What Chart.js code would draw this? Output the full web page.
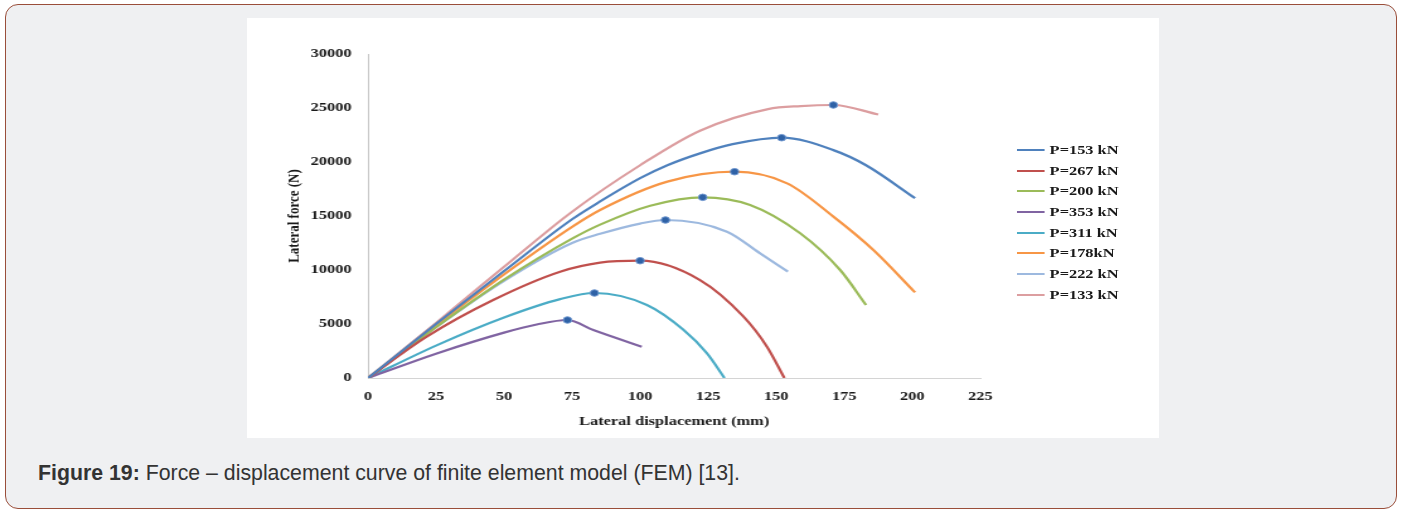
<!DOCTYPE html>
<html>
<head>
<meta charset="utf-8">
<script src="https://cdn.jsdelivr.net/npm/chart.js"></script>
<style>
  html, body { margin:0; padding:0; background:#fff; }
  body { width:1402px; height:511px; position:relative; overflow:hidden; }
  #frame { position:absolute; left:5px; top:4px; width:1390px; height:503px;
           border:1.5px solid #9a4e3a; border-radius:13px; background:#eff0f2; }
  #plot { position:absolute; left:247px; top:18px; width:912px; height:420px; background:#fff; overflow:hidden; }
  /* the source picture is stretched sideways, so draw narrow and widen */
  #stretch { position:absolute; left:0; top:0; width:724px; height:420px;
             transform:scaleX(1.26); transform-origin:0 0; }
  #chartCanvas { position:absolute; left:0; top:0; }
  #legend { position:absolute; left:611px; top:121.6px; font:bold 13px "Liberation Serif", "Times New Roman", serif; color:#1a1a1a; }
  #legend .row { height:20.7px; display:flex; align-items:center; white-space:nowrap; }
  #legend .swatch { width:22px; height:2.2px; margin-right:4px; }
  #caption { position:absolute; left:38px; top:461px; font:21.3px "Liberation Sans", Arial, sans-serif; color:#333; white-space:nowrap; }
</style>
</head>
<body>
<div id="frame"></div>
<div id="plot">
  <div id="stretch">
    <canvas id="chartCanvas" width="724" height="420"></canvas>
    <div id="legend"></div>
  </div>
</div>
<div id="caption"><b>Figure 19:</b> Force – displacement curve of finite element model (FEM) [13].</div>
<script>
// values: displacement (mm) and lateral force (N)
const disp153 = [0, 25, 50, 75, 85, 100, 110, 122, 134, 152, 171, 183, 201];
const force153 = [0, 5000, 9900, 14700, 16300, 18500, 19700, 20800, 21650, 22250, 21100, 19700, 16650];

const disp267 = [0, 21.6, 46, 70.6, 85.3, 100, 122, 138, 146.6, 153];
const force267 = [0, 3830, 7220, 9840, 10680, 10860, 9070, 5680, 2900, 0];

const disp200 = [0, 25, 50, 75, 85.3, 103.7, 123, 140.4, 158.8, 173.5, 183];
const force200 = [0, 4700, 9100, 12900, 14200, 15950, 16730, 16020, 13400, 10000, 6760];

const disp353 = [0, 25, 50, 62, 73.3, 82.8, 100.6];
const force353 = [0, 2250, 4200, 4950, 5370, 4440, 2900];

const disp311 = [0, 25, 50, 70.6, 83.2, 102.5, 116, 124.5, 131];
const force311 = [0, 3000, 5600, 7300, 7870, 6760, 4440, 2300, 0];

const disp178 = [0, 25, 50, 75, 85.3, 110, 134.7, 154, 171, 185.7, 201];
const force178 = [0, 4900, 9600, 14000, 15560, 18180, 19100, 18020, 14940, 11850, 7930];

const disp222 = [0, 25, 50, 75, 85.3, 100, 109.3, 131.9, 144.1, 154.3];
const force222 = [0, 4700, 9000, 12500, 13350, 14300, 14630, 13550, 11540, 9850];

const disp133 = [0, 25, 50, 75, 100, 122, 147, 159, 171, 187.5];
const force133 = [0, 5100, 10300, 15400, 19700, 22900, 24900, 25180, 25280, 24400];

const seriesNames = ['P=153 kN', 'P=267 kN', 'P=200 kN', 'P=353 kN', 'P=311 kN', 'P=178kN', 'P=222 kN', 'P=133 kN'];
const seriesColors = ['#4f81bd', '#c0504d', '#9bbb59', '#8064a2', '#4bacc6', '#f79646', '#9db9df', '#dc9ea0'];
const xTicks = [0, 25, 50, 75, 100, 125, 150, 175, 200, 225];
const yTicks = [0, 5000, 10000, 15000, 20000, 25000, 30000];

const allDisp = [disp153, disp267, disp200, disp353, disp311, disp178, disp222, disp133];
const allForce = [force153, force267, force200, force353, force311, force178, force222, force133];

const datasets = seriesNames.map((name, i) => {
  const f = allForce[i];
  const peak = f.indexOf(Math.max(...f));
  return {
    label: name,
    data: allDisp[i].map((x, j) => ({ x: x, y: f[j] })),
    borderColor: seriesColors[i],
    backgroundColor: seriesColors[i],
    borderWidth: 2.2,
    cubicInterpolationMode: 'monotone',
    pointRadius: ctx => ctx.dataIndex === peak ? 3.3 : 0,
    pointBackgroundColor: '#2f62a6',
    pointBorderColor: '#6f97cf',
    pointBorderWidth: 1,
    fill: false
  };
});

// legend as html rows
const legendEl = document.getElementById('legend');
seriesNames.forEach((name, i) => {
  const row = document.createElement('div');
  row.className = 'row';
  row.innerHTML = '<span class="swatch" style="background:' + seriesColors[i] + '"></span><span>' + name + '</span>';
  legendEl.appendChild(row);
});

const tickFont = { family: '"Liberation Serif", "Times New Roman", serif', size: 13, weight: 'bold' };
const titleFont = { family: '"Liberation Serif", "Times New Roman", serif', size: 13, weight: 'bold' };

new Chart(document.getElementById('chartCanvas'), {
  type: 'line',
  data: { datasets: datasets },
  options: {
    responsive: false,
    animation: false,
    events: [],
    layout: { padding: { left: 26, right: 142, top: 36, bottom: 0 } },
    plugins: { legend: { display: false }, tooltip: { enabled: false } },
    scales: {
      x: {
        type: 'linear',
        min: 0, max: 225,
        afterBuildTicks: s => { s.ticks = xTicks.map(v => ({ value: v })); },
        afterFit: s => { s.height = 60; },
        grid: { display: false, drawTicks: false },
        border: { display: true, color: '#d4d4d4', width: 1 },
        ticks: { font: tickFont, color: '#1a1a1a', padding: 11, maxRotation: 0 },
        title: { display: true, text: 'Lateral displacement (mm)', font: titleFont, color: '#1a1a1a', padding: { top: 4, bottom: 9 } }
      },
      y: {
        type: 'linear',
        min: 0, max: 30000,
        afterBuildTicks: s => { s.ticks = yTicks.map(v => ({ value: v })); },
        afterFit: s => { s.width = 70; },
        grid: { display: false, drawTicks: false },
        border: { display: true, color: '#c4c4c4', width: 1 },
        ticks: { font: tickFont, color: '#1a1a1a', padding: 13, callback: v => String(v) },
        title: { display: true, text: 'Lateral force (N)', font: titleFont, color: '#1a1a1a', padding: { top: 4, bottom: 4 } }
      }
    }
  }
});
</script>
</body>
</html>
